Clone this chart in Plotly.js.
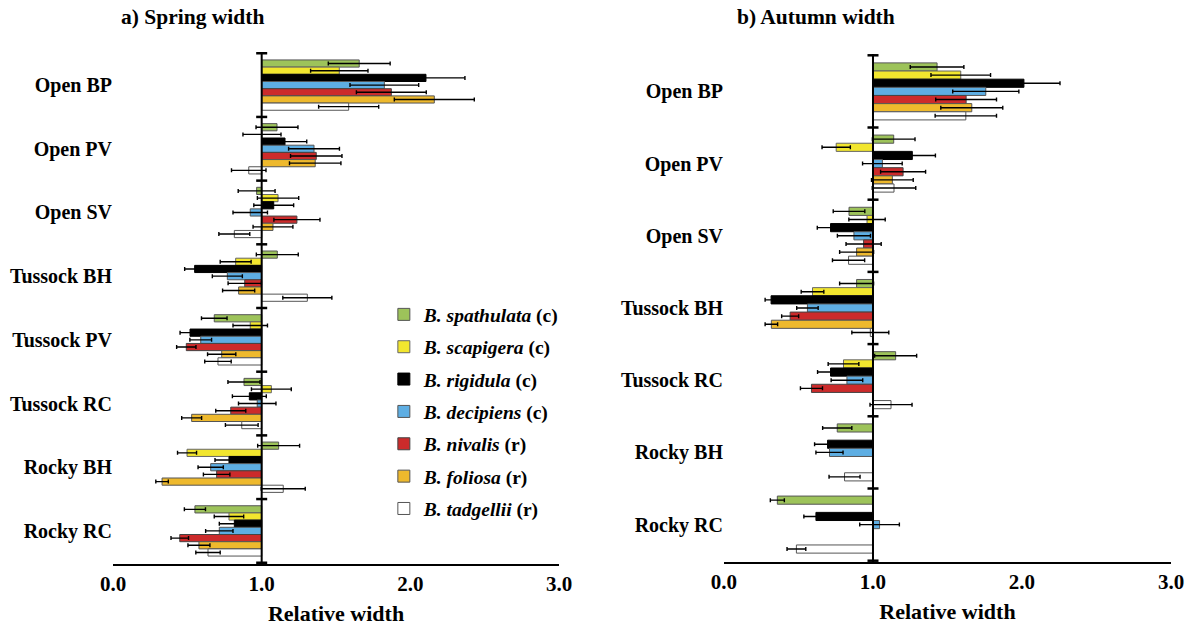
<!DOCTYPE html>
<html>
<head>
<meta charset="utf-8">
<script src="https://cdn.plot.ly/plotly-3.0.1.min.js"></script>
<style>html,body{margin:0;padding:0;background:#fff;}#chart{width:1193px;height:627px;}</style>
</head>
<body>
<div id="chart"></div>
<script>
// ---- Data ----
const speciesNames = ["B. spathulata", "B. scapigera", "B. rigidula", "B. decipiens", "B. nivalis", "B. foliosa", "B. tadgellii"];
const speciesTags = ["(c)", "(c)", "(c)", "(c)", "(r)", "(r)", "(r)"];

const springCategories = ["Open BP", "Open PV", "Open SV", "Tussock BH", "Tussock PV", "Tussock RC", "Rocky BH", "Rocky RC"];
const autumnCategories = ["Open BP", "Open PV", "Open SV", "Tussock BH", "Tussock RC", "Rocky BH", "Rocky RC"];

// Spring relative width (mean) and error
const springSpathulata    = [1.656, 1.103, 0.966, 1.105, 0.681, 0.881, 1.114, 0.551];
const springSpathulataErr = [0.208, 0.141, 0.124, 0.141, 0.086, 0.108, 0.141, 0.071];
const springScapigera     = [1.522, 1.002, 1.110, 0.825, 0.923, 1.065, 0.498, 0.780];
const springScapigeraErr  = [0.193, 0.128, 0.139, 0.104, 0.116, 0.134, 0.064, 0.099];
const springRigidula      = [2.105, 1.157, 1.081, 0.549, 0.518, 0.917, 0.780, 0.816];
const springRigidulaErr   = [0.262, 0.146, 0.134, 0.067, 0.067, 0.114, 0.094, 0.101];
const springDecipiens     = [1.825, 1.352, 0.923, 0.769, 0.590, 0.970, 0.657, 0.715];
const springDecipiensErr  = [0.231, 0.171, 0.116, 0.101, 0.073, 0.126, 0.085, 0.092];
const springNivalis       = [1.872, 1.367, 1.237, 0.886, 0.493, 0.792, 0.697, 0.449];
const springNivalisErr    = [0.235, 0.173, 0.155, 0.112, 0.065, 0.101, 0.089, 0.059];
const springFoliosa       = [2.161, 1.360, 1.076, 0.845, 0.731, 0.529, 0.330, 0.578];
const springFoliosaErr    = [0.269, 0.173, 0.134, 0.108, 0.095, 0.067, 0.042, 0.074];
const springTadgellii     = [1.585, 0.913, 0.816, 1.307, 0.706, 0.866, 1.145, 0.639];
const springTadgelliiErr  = [0.202, 0.116, 0.104, 0.165, 0.089, 0.110, 0.148, 0.082];

// Autumn relative width (mean) and error; null = not measured
const autumnSpathulata    = [1.430, 1.139, 0.839, 0.890, 1.152, 0.760, 0.358];
const autumnSpathulataErr = [0.180, 0.143, 0.106, 0.114, 0.141, 0.098, 0.047];
const autumnScapigera     = [1.589, 0.753, 0.960, 0.594, 0.802, null, null];
const autumnScapigeraErr  = [0.200, 0.095, 0.122, 0.076, 0.103, null, null];
const autumnRigidula      = [2.013, 1.264, 0.715, 0.316, 0.715, 0.695, 0.617];
const autumnRigidulaErr   = [0.242, 0.155, 0.089, 0.040, 0.087, 0.087, 0.081];
const autumnDecipiens     = [1.757, 1.063, 0.872, 0.560, 0.825, 0.708, 1.044];
const autumnDecipiensErr  = [0.222, 0.133, 0.111, 0.072, 0.106, 0.091, 0.133];
const autumnNivalis       = [1.625, 1.202, 0.937, 0.444, 0.587, null, null];
const autumnNivalisErr    = [0.204, 0.151, 0.118, 0.057, 0.074, null, null];
const autumnFoliosa       = [1.663, 1.130, 0.890, 0.318, null, null, null];
const autumnFoliosaErr    = [0.208, 0.140, 0.114, 0.042, null, null, null];
const autumnTadgellii     = [1.623, 1.141, 0.836, 0.982, 1.121, 0.809, 0.486];
const autumnTadgelliiErr  = [0.206, 0.146, 0.108, 0.124, 0.141, 0.104, 0.063];

const tickValues = [0, 1, 2, 3];
const referenceValue = 1.0;

// ---- Styles ----
const speciesColors = ["#9dc35a", "#f2e62e", "#000000", "#5eaee3", "#cc2b2b", "#eeb92d", "#ffffff"];
const outlineColors = ["#555555", "#666666", "#000000", "#555555", "#444444", "#555555", "#555555"];
const serif = "Liberation Serif, Times New Roman, serif";

const springSeries = [
  [springSpathulata, springSpathulataErr], [springScapigera, springScapigeraErr],
  [springRigidula, springRigidulaErr], [springDecipiens, springDecipiensErr],
  [springNivalis, springNivalisErr], [springFoliosa, springFoliosaErr],
  [springTadgellii, springTadgelliiErr]
];
const autumnSeries = [
  [autumnSpathulata, autumnSpathulataErr], [autumnScapigera, autumnScapigeraErr],
  [autumnRigidula, autumnRigidulaErr], [autumnDecipiens, autumnDecipiensErr],
  [autumnNivalis, autumnNivalisErr], [autumnFoliosa, autumnFoliosaErr],
  [autumnTadgellii, autumnTadgelliiErr]
];

function makeTrace(i, vals, errs, cats, xa, ya, showleg) {
  return {
    type: "bar",
    orientation: "h",
    name: "<i>" + speciesNames[i] + "</i> " + speciesTags[i],
    legendgroup: "g" + i,
    showlegend: showleg,
    y: cats,
    x: vals.map(v => v == null ? null : v - referenceValue),
    base: referenceValue,
    xaxis: xa, yaxis: ya,
    marker: { color: speciesColors[i], line: { color: outlineColors[i], width: 1 } },
    error_x: { type: "data", array: errs.map(e => e == null ? 0 : e), visible: true,
               color: "#000", thickness: 1.4, width: 2 },
    hoverinfo: "skip"
  };
}

const traces = [];
springSeries.forEach((s, i) => traces.push(makeTrace(i, s[0], s[1], springCategories, "x", "y", true)));
autumnSeries.forEach((s, i) => traces.push(makeTrace(i, s[0], s[1], autumnCategories, "x2", "y2", false)));

// reference line at x = 1 with group separator ticks
const shapes = [];
function addRef(xref, yref, n) {
  shapes.push({ type: "line", xref: xref, yref: yref + " domain", x0: referenceValue, x1: referenceValue,
                y0: 0, y1: 1, line: { color: "#000", width: 2 } });
  for (let k = 0; k <= n; k++) {
    shapes.push({ type: "line", xref: xref, yref: yref, x0: referenceValue - 0.037, x1: referenceValue + 0.037,
                  y0: k - 0.5, y1: k - 0.5, line: { color: "#000", width: 2.5 } });
  }
}
addRef("x", "y", springCategories.length);
addRef("x2", "y2", autumnCategories.length);

const tickFont = { family: serif, size: 21, color: "#000", weight: "bold" };
const catFont = { family: serif, size: 20, color: "#000", weight: "bold" };
const titleFont = { family: serif, size: 21.5, color: "#000", weight: "bold" };
const axisTitleFont = { family: serif, size: 22, color: "#000", weight: "bold" };

function xAxis(domain, anchor) {
  return {
    domain: domain, anchor: anchor, range: [0, 3], tickvals: tickValues, tickformat: ".1f",
    showline: true, linewidth: 2, linecolor: "#000", showgrid: false, zeroline: false, ticks: "",
    tickfont: tickFont, fixedrange: true,
    title: { text: "Relative width", font: axisTitleFont, standoff: 10 }
  };
}
function yAxis(domain, anchor, cats) {
  return {
    domain: domain, anchor: anchor, type: "category", categoryorder: "array", categoryarray: cats,
    autorange: "reversed", showline: false, showgrid: false, zeroline: false, ticks: "",
    tickfont: catFont, fixedrange: true
  };
}

const layout = {
  width: 1193, height: 627,
  margin: { l: 113, r: 22, t: 52, b: 63 },
  paper_bgcolor: "#fff", plot_bgcolor: "#fff",
  barmode: "group", bargap: 0.21, bargroupgap: 0,
  xaxis: xAxis([0, 0.4216], "y"),
  yaxis: yAxis([0, 1], "x", springCategories),
  xaxis2: xAxis([0.5775, 1], "y2"),
  yaxis2: yAxis([0.004, 0.996], "x2", autumnCategories),
  shapes: shapes,
  showlegend: true,
  legend: {
    x: 0.256, y: 0.525, xanchor: "left", yanchor: "top",
    bgcolor: "rgba(0,0,0,0)", traceorder: "grouped", tracegroupgap: 4,
    font: { family: serif, size: 19.5, color: "#000", weight: "bold" },
    itemclick: false, itemdoubleclick: false
  },
  annotations: [
    { text: "a) Spring width", xref: "paper", yref: "paper", x: 0.0057, y: 1.068,
      xanchor: "left", yanchor: "middle", showarrow: false, font: titleFont },
    { text: "b) Autumn width", xref: "paper", yref: "paper", x: 0.588, y: 1.068,
      xanchor: "left", yanchor: "middle", showarrow: false, font: titleFont }
  ]
};

Plotly.newPlot("chart", traces, layout, { displayModeBar: false, responsive: false });
</script>
</body>
</html>
